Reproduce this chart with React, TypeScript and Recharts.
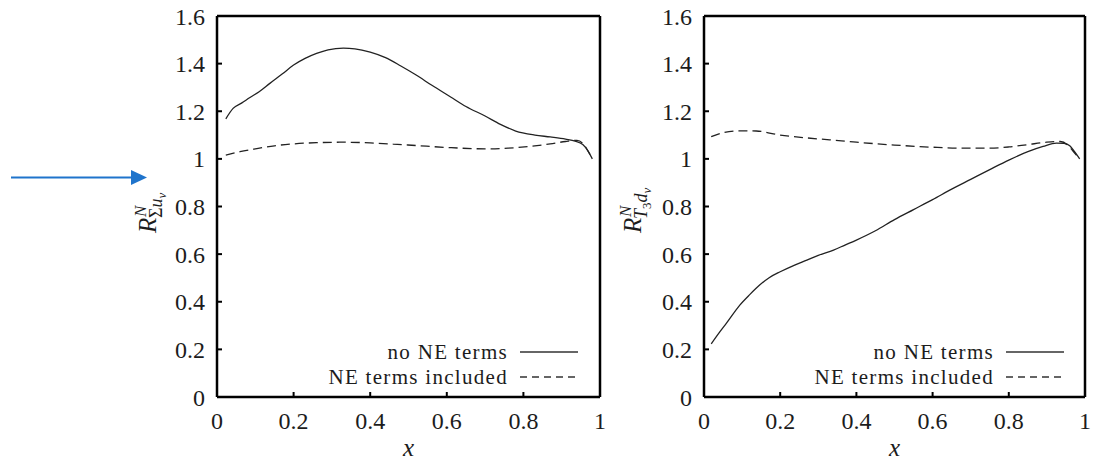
import React from 'react';
import { LineChart, Line, XAxis, YAxis, Legend } from 'recharts';

const FONT = "'Liberation Serif'";
const INK = '#1c1c1c';

const xTicks = [0, 0.2, 0.4, 0.6, 0.8, 1];
const yTicks = [0, 0.2, 0.4, 0.6, 0.8, 1, 1.2, 1.4, 1.6];
const legendLabels = ['no NE terms', 'NE terms included'];

// left panel: R^N_{Σu_v}
const sigmaX = [0.023, 0.042, 0.065, 0.086, 0.11, 0.138, 0.17, 0.2, 0.23, 0.26, 0.29, 0.33, 0.36, 0.4, 0.44, 0.48, 0.52, 0.56, 0.61, 0.65, 0.7, 0.74, 0.78, 0.83, 0.87, 0.91, 0.935, 0.955, 0.968, 0.98];
const sigmaNoNE = [1.168, 1.212, 1.235, 1.258, 1.282, 1.317, 1.356, 1.394, 1.422, 1.443, 1.458, 1.465, 1.462, 1.448, 1.425, 1.39, 1.352, 1.31, 1.26, 1.22, 1.18, 1.145, 1.117, 1.1, 1.092, 1.083, 1.075, 1.06, 1.035, 1.0];
const sigmaDashX = [0.023, 0.06, 0.1, 0.15, 0.2, 0.26, 0.33, 0.4, 0.46, 0.52, 0.6, 0.7, 0.76, 0.82, 0.87, 0.91, 0.94, 0.955, 0.968, 0.98];
const sigmaNE = [1.016, 1.03, 1.042, 1.055, 1.063, 1.068, 1.07, 1.067, 1.062, 1.056, 1.048, 1.042, 1.045, 1.053, 1.063, 1.073, 1.078, 1.065, 1.035, 1.0];

// right panel: R^N_{T3 d_v}
const t3X = [0.019, 0.04, 0.059, 0.094, 0.12, 0.146, 0.17, 0.2, 0.235, 0.27, 0.3, 0.34, 0.37, 0.4, 0.45, 0.5, 0.55, 0.6, 0.65, 0.7, 0.75, 0.8, 0.85, 0.89, 0.925, 0.945, 0.96, 0.975, 0.986];
const t3NoNE = [0.223, 0.27, 0.31, 0.386, 0.43, 0.47, 0.5, 0.526, 0.552, 0.575, 0.595, 0.617, 0.638, 0.659, 0.698, 0.745, 0.787, 0.829, 0.873, 0.914, 0.955, 0.995, 1.03, 1.052, 1.066, 1.065, 1.055, 1.025, 1.0];
const t3DashX = [0.019, 0.05, 0.094, 0.137, 0.2, 0.27, 0.33, 0.4, 0.5, 0.6, 0.68, 0.75, 0.8, 0.85, 0.9, 0.935, 0.955, 0.97, 0.986];
const t3NE = [1.093, 1.11, 1.118, 1.117, 1.1, 1.088, 1.08, 1.07, 1.058, 1.049, 1.045, 1.045, 1.05, 1.06, 1.07, 1.073, 1.058, 1.03, 1.0];

const toPoints = (xs: number[], ys: number[]) => xs.map((x, i) => ({ x, y: ys[i] }));

const frame = { stroke: '#000', strokeWidth: 2.5 };
const tickLine = { stroke: '#000', strokeWidth: 2 };
const tickFont = { fontFamily: FONT, fontSize: 24, fill: INK };

// rotated y title, R with stacked super/subscripts
const AxisTitle = ({ bx, by, kind }: any) => (
  <g transform={`translate(${bx},${by}) rotate(-90)`}>
    <text x={0} y={0} fontFamily={FONT} fill={INK}>
      <tspan fontStyle="italic" fontSize={25}>R</tspan>
      <tspan x={16} y={-10} fontStyle="italic" fontSize={17}>N</tspan>
      {kind === 'sigma' ? (
        <>
          <tspan x={15} y={6} fontSize={18}>Σ</tspan>
          <tspan fontStyle="italic" fontSize={18}>u</tspan>
          <tspan y={10} fontStyle="italic" fontSize={13}>v</tspan>
        </>
      ) : (
        <>
          <tspan x={14} y={6} fontStyle="italic" fontSize={18}>T</tspan>
          <tspan y={10} fontSize={13}>3</tspan>
          <tspan y={6} fontStyle="italic" fontSize={18}>d</tspan>
          <tspan y={10} fontStyle="italic" fontSize={13}>v</tspan>
        </>
      )}
    </text>
  </g>
);

const LegendBox = () => (
  <div style={{ fontFamily: FONT, fontSize: 21, color: INK, width: 278 }}>
    {legendLabels.map((label, i) => (
      <div key={label} style={{ display: 'flex', justifyContent: 'flex-end', alignItems: 'center', height: 24.2 }}>
        <span style={{ lineHeight: '24px', marginRight: 12, letterSpacing: 1.3 }}>{label}</span>
        <svg width={58} height={4}>
          <line x1={0} y1={2} x2={58} y2={2} stroke="#333" strokeWidth={1.3} strokeDasharray={i === 1 ? '7 5' : undefined} />
        </svg>
      </div>
    ))}
  </div>
);

const Panel = ({ left, width, marginLeft, marginRight, solid, dashed, kind, titleX, legendLeft }: any) => (
  <div style={{ position: 'absolute', left, top: 0 }}>
    <LineChart width={width} height={461} margin={{ top: 15, right: marginRight, bottom: 0, left: marginLeft }}>
      <XAxis
        xAxisId="b"
        type="number"
        dataKey="x"
        domain={[0, 1]}
        ticks={xTicks}
        allowDataOverflow
        height={64}
        axisLine={frame}
        tickLine={tickLine}
        tickSize={-5}
        tickMargin={20}
        tick={tickFont}
        tickFormatter={(v: number) => String(v)}
        label={{ value: 'x', position: 'insideBottom', offset: 5, style: { fontFamily: FONT, fontSize: 25, fontStyle: 'italic', fill: INK } }}
      />
      <XAxis
        xAxisId="t"
        orientation="top"
        type="number"
        dataKey="x"
        domain={[0, 1]}
        ticks={xTicks}
        allowDataOverflow
        height={1}
        axisLine={frame}
        tickLine={tickLine}
        tickSize={-5}
        tick={false}
      />
      <YAxis
        yAxisId="l"
        type="number"
        domain={[0, 1.6]}
        ticks={yTicks}
        allowDataOverflow
        width={60}
        axisLine={frame}
        tickLine={tickLine}
        tickSize={-5}
        tickMargin={17}
        tick={tickFont}
        tickFormatter={(v: number) => String(v)}
        label={<AxisTitle bx={titleX} by={233} kind={kind} />}
      />
      <YAxis
        yAxisId="r"
        orientation="right"
        type="number"
        domain={[0, 1.6]}
        ticks={yTicks}
        allowDataOverflow
        width={1}
        axisLine={frame}
        tickLine={tickLine}
        tickSize={-5}
        tick={false}
      />
      <Line xAxisId="b" yAxisId="l" data={solid} dataKey="y" type="monotone" stroke="#222" strokeWidth={1.3} dot={false} isAnimationActive={false} />
      <Line xAxisId="b" yAxisId="l" data={dashed} dataKey="y" type="monotone" stroke="#222" strokeWidth={1.3} strokeDasharray="9 5" dot={false} isAnimationActive={false} />
      <Line xAxisId="t" yAxisId="r" data={solid} dataKey="y" stroke="none" dot={false} legendType="none" isAnimationActive={false} />
      <Legend
        layout="vertical"
        align="center"
        verticalAlign="middle"
        content={() => <LegendBox />}
        wrapperStyle={{ left: legendLeft, top: 340.4, width: 278 }}
      />
    </LineChart>
  </div>
);

export default function App() {
  return (
    <div style={{ position: 'absolute', left: 0, top: 0, width: 1095, height: 461, background: '#fff' }}>
      <Panel
        left={0}
        width={620}
        marginLeft={157}
        marginRight={19}
        solid={toPoints(sigmaX, sigmaNoNE)}
        dashed={toPoints(sigmaDashX, sigmaNE)}
        kind="sigma"
        titleX={156}
        legendLeft={300}
      />
      <Panel
        left={600}
        width={495}
        marginLeft={44}
        marginRight={9}
        solid={toPoints(t3X, t3NoNE)}
        dashed={toPoints(t3DashX, t3NE)}
        kind="t3"
        titleX={41}
        legendLeft={186}
      />
      <svg style={{ position: 'absolute', left: 0, top: 0 }} width={160} height={200}>
        <line x1={11} y1={177.5} x2={134} y2={177.5} stroke="#1f74cc" strokeWidth={2} />
        <polygon points="131,170 147,177.5 131,185" fill="#1f74cc" />
      </svg>
    </div>
  );
}
